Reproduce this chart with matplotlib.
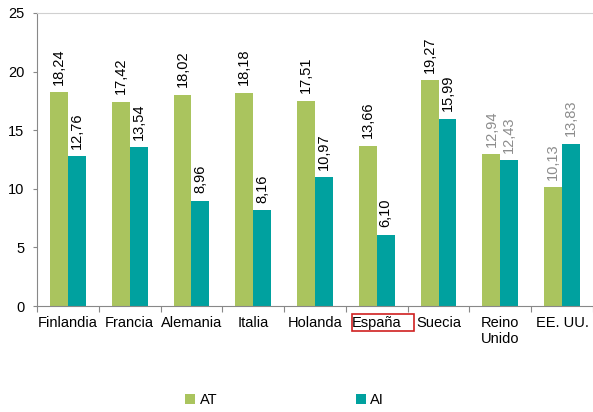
import matplotlib.pyplot as plt
import matplotlib.patches as mpatches
import numpy as np

paises = ['Finlandia', 'Francia', 'Alemania', 'Italia', 'Holanda', 'España', 'Suecia', 'Reino\nUnido', 'EE. UU.']
at = [18.24, 17.42, 18.02, 18.18, 17.51, 13.66, 19.27, 12.94, 10.13]
ai = [12.76, 13.54, 8.96, 8.16, 10.97, 6.10, 15.99, 12.43, 13.83]
gris = [False, False, False, False, False, False, False, True, True]

plt.rcParams['font.family'] = ['Liberation Sans', 'DejaVu Sans']
c_at = '#aac45e'
c_ai = '#00a19f'

fig = plt.figure(figsize=(5.93, 4.12), dpi=100)
ax = fig.add_axes([37 / 593, 1 - 306 / 412, 1 - 37 / 593, (306 - 13) / 412])

x = np.arange(len(paises))
w = 0.29
b1 = ax.bar(x - w / 2, at, w, color=c_at, label='AT')
b2 = ax.bar(x + w / 2, ai, w, color=c_ai, label='AI')

for bars, vals in [(b1, at), (b2, ai)]:
    for i, (r, v) in enumerate(zip(bars, vals)):
        col = '#8c8c8c' if gris[i] else 'black'
        ax.annotate(('%.2f' % v).replace('.', ','), (r.get_x() + r.get_width() / 2, v),
                    xytext=(0, 5.5), textcoords='offset points', rotation=90,
                    ha='center', va='bottom', fontsize=10.5, color=col)

ax.set_ylim(0, 25)
ax.set_xlim(-0.5, 8.4)
ax.set_yticks(range(0, 26, 5))
ax.set_xticks(np.arange(-0.5, 9, 1), minor=False)
ax.set_xticklabels([])
ax.set_xticks(x, minor=True)
ax.set_xticklabels(paises, minor=True, fontsize=10.5)
ax.tick_params(axis='x', which='minor', length=0, pad=7)
ax.tick_params(axis='x', which='major', length=4, color='#888888')
ax.tick_params(axis='y', length=3, color='#888888', labelsize=10.5, pad=6)

for s in ['left', 'bottom']:
    ax.spines[s].set_color('#888888')
ax.spines['top'].set_color('#d0d0d0')
ax.spines['right'].set_visible(False)

# recuadro rojo alrededor de España
fig.patches.append(mpatches.Rectangle((352 / 593, 1 - 331 / 412), 62 / 593, 17 / 412,
                                      transform=fig.transFigure, fill=False,
                                      edgecolor='#d02020', linewidth=1.2))

fig.legend(loc='center', bbox_to_anchor=(0.48, 0.029), ncol=2, frameon=False,
           handlelength=0.7, handleheight=0.7, handletextpad=0.3, columnspacing=9.5,
           fontsize=10.5)

fig.savefig('out.png', dpi=100)
